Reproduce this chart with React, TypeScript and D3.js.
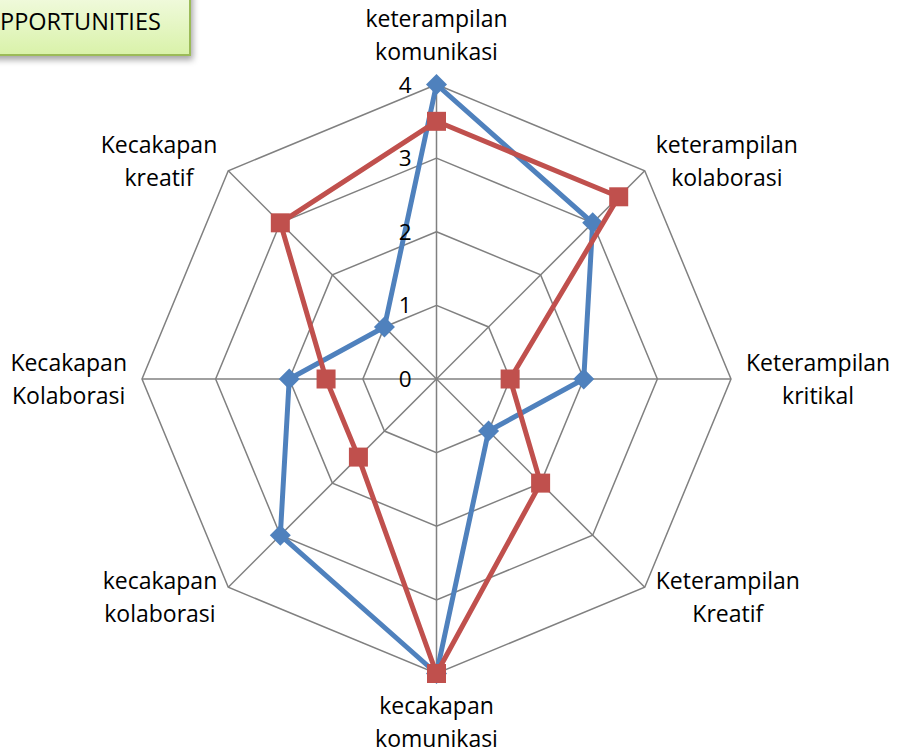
import React, { useEffect, useRef } from "react";
import * as d3 from "d3";

const categories: string[][] = [
  ["keterampilan", "komunikasi"],
  ["keterampilan", "kolaborasi"],
  ["Keterampilan", "kritikal"],
  ["Keterampilan", "Kreatif"],
  ["kecakapan", "komunikasi"],
  ["kecakapan", "kolaborasi"],
  ["Kecakapan", "Kolaborasi"],
  ["Kecakapan", "kreatif"],
];
const seriesBlue: number[] = [4, 3, 2, 1, 4, 3, 2, 1];
const seriesRed: number[] = [3.5, 3.5, 1, 2, 4, 1.5, 1.5, 3];
const tickValues: number[] = [0, 1, 2, 3, 4];
const titleText = "PPORTUNITIES";

const W = 898;
const H = 753;
const FONT = "'Open Sans', 'Liberation Sans', sans-serif";

export default function App() {
  const ref = useRef<SVGSVGElement | null>(null);

  useEffect(() => {
    const svg = d3.select(ref.current);
    svg.selectAll("*").remove();

    const cx = 436.5;
    const cy = 379;
    const R = 294.5;
    const n = categories.length;
    const r = d3.scaleLinear().domain([0, 4]).range([0, R]);
    const ang = (i: number) => (i * 2 * Math.PI) / n;
    const pt = (i: number, v: number): [number, number] => [
      cx + r(v) * Math.sin(ang(i)),
      cy - r(v) * Math.cos(ang(i)),
    ];

    const defs = svg.append("defs");
    const grad = defs
      .append("linearGradient")
      .attr("id", "titleGrad")
      .attr("x1", 0)
      .attr("y1", 0)
      .attr("x2", 0)
      .attr("y2", 1);
    grad.append("stop").attr("offset", "0%").attr("stop-color", "#f3fbe3");
    grad.append("stop").attr("offset", "100%").attr("stop-color", "#d9f2a9");
    const filt = defs
      .append("filter")
      .attr("id", "shadow")
      .attr("x", "-20%")
      .attr("y", "-20%")
      .attr("width", "140%")
      .attr("height", "160%");
    filt
      .append("feDropShadow")
      .attr("dx", 2)
      .attr("dy", 4)
      .attr("stdDeviation", 3)
      .attr("flood-color", "#000")
      .attr("flood-opacity", 0.35);

    svg.append("rect").attr("width", W).attr("height", H).attr("fill", "#fff");

    const grid = svg.append("g");
    tickValues
      .filter((t) => t > 0)
      .forEach((t) => {
        const pts = d3.range(n).map((i) => pt(i, t));
        grid
          .append("path")
          .attr("d", d3.line()(pts.concat([pts[0]])) as string)
          .attr("fill", "none")
          .attr("stroke", "#808080")
          .attr("stroke-width", 1.5);
      });
    d3.range(n).forEach((i) => {
      const [x, y] = pt(i, 4);
      grid
        .append("line")
        .attr("x1", cx)
        .attr("y1", cy)
        .attr("x2", x)
        .attr("y2", y)
        .attr("stroke", "#808080")
        .attr("stroke-width", 1.5);
    });

    const drawSeries = (vals: number[], color: string, marker: "diamond" | "square") => {
      const pts = vals.map((v, i) => pt(i, v));
      svg
        .append("path")
        .attr("d", d3.line()(pts.concat([pts[0]])) as string)
        .attr("fill", "none")
        .attr("stroke", color)
        .attr("stroke-width", 5)
        .attr("stroke-linejoin", "round");
      const g = svg.append("g");
      pts.forEach(([x, y]) => {
        if (marker === "square") {
          g.append("rect")
            .attr("x", x - 9.5)
            .attr("y", y - 9.5)
            .attr("width", 19)
            .attr("height", 19)
            .attr("fill", color);
        } else {
          const s = 10.5;
          g.append("path")
            .attr("d", `M${x},${y - s}L${x + s},${y}L${x},${y + s}L${x - s},${y}Z`)
            .attr("fill", color);
        }
      });
    };
    drawSeries(seriesBlue, "#4f81bd", "diamond");
    drawSeries(seriesRed, "#c0504d", "square");

    tickValues.forEach((t) => {
      svg
        .append("text")
        .attr("x", cx - 25)
        .attr("y", cy - r(t))
        .attr("dy", "0.36em")
        .attr("text-anchor", "end")
        .attr("font-family", FONT)
        .attr("font-size", 22.5)
        .attr("fill", "#000")
        .text(String(t));
    });

    const lineH = 33;
    categories.forEach((lines, i) => {
      const g = svg.append("g");
      const txt = g
        .append("text")
        .attr("font-family", FONT)
        .attr("font-size", 23)
        .attr("fill", "#000")
        .attr("text-anchor", "middle");
      lines.forEach((l, k) => {
        txt
          .append("tspan")
          .attr("x", 0)
          .attr("y", (k - (lines.length - 1) / 2) * lineH)
          .attr("dy", "0.36em")
          .text(l);
      });
      const bb = (txt.node() as SVGTextElement).getBBox();
      const w = bb.width;
      const h = lines.length * lineH;
      const [vx, vy] = pt(i, 4);
      const sx = Math.sin(ang(i));
      const sy = -Math.cos(ang(i));
      let x = vx;
      let y = vy;
      if (Math.abs(sx) < 0.1) {
        y = vy + Math.sign(sy) * (h / 2 + 16);
      } else if (Math.abs(sy) < 0.1) {
        x = vx + Math.sign(sx) * (w / 2 + 15);
      } else {
        x = vx + Math.sign(sx) * (w / 2 + 11);
        y = vy + Math.sign(sy) * 10;
      }
      g.attr("transform", `translate(${x},${y})`);
    });

    const tg = svg.append("g");
    tg.append("rect")
      .attr("x", -20)
      .attr("y", -10)
      .attr("width", 210)
      .attr("height", 65)
      .attr("fill", "url(#titleGrad)")
      .attr("stroke", "#9bbb59")
      .attr("stroke-width", 2)
      .attr("filter", "url(#shadow)");
    tg.append("text")
      .attr("x", 0)
      .attr("y", 29.5)
      .attr("font-family", FONT)
      .attr("font-size", 23.5)
      .attr("fill", "#000")
      .text(titleText);
  }, []);

  return (
    <svg
      ref={ref}
      width={W}
      height={H}
      style={{ position: "absolute", left: 0, top: 0, display: "block" }}
    />
  );
}
